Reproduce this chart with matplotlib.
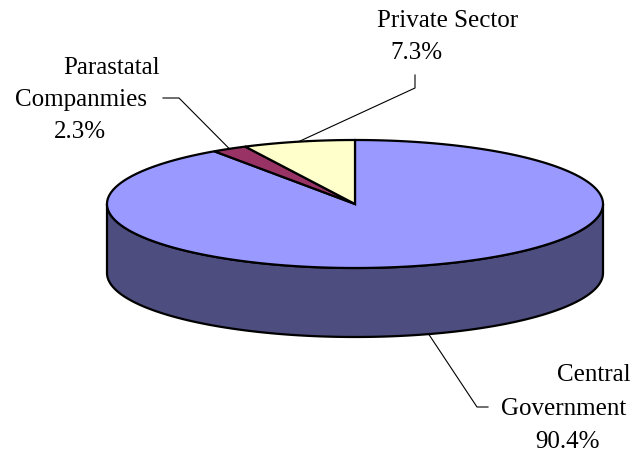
import numpy as np
import matplotlib
matplotlib.use("Agg")
import matplotlib.pyplot as plt
from matplotlib.patches import Polygon

# data
labels = ["Central\nGovernment", "Parastatal\nCompanmies", "Private Sector"]
shares = [90.4, 2.3, 7.3]
top_colors = ["#9999FF", "#993366", "#FFFFCC"]
side_color = "#4D4D80"

# pie geometry in pixels
cx, cy = 355, 204
rx, ry = 248, 64
depth = 69


def pt(theta, dy=0):
    # theta in degrees from 12 o'clock, clockwise
    t = np.radians(theta)
    return cx + rx * np.sin(t), cy - ry * np.cos(t) + dy


fig = plt.figure(figsize=(6.33, 4.53), dpi=100)
ax = fig.add_axes([0, 0, 1, 1])
ax.set_xlim(0, 633)
ax.set_ylim(453, 0)
ax.axis("off")

# side wall (front half)
th = np.linspace(90, 270, 200)
top_edge = [pt(t) for t in th]
bot_edge = [pt(t, depth) for t in th[::-1]]
ax.add_patch(Polygon(top_edge + bot_edge, closed=True, facecolor=side_color,
                     edgecolor="black", lw=1.6, joinstyle="round"))

# top slices
fracs = np.array(shares) / sum(shares)
starts = np.concatenate([[0], np.cumsum(fracs)[:-1]]) * 360
ends = np.cumsum(fracs) * 360
mids = []
for s, e, c in zip(starts, ends, top_colors):
    arc = [pt(t) for t in np.linspace(s, e, max(int(e - s), 2) * 2)]
    ax.add_patch(Polygon([(cx, cy)] + arc, closed=True, facecolor=c,
                         edgecolor="black", lw=1.6, joinstyle="miter"))
    mids.append((s + e) / 2)

# leader lines
txt = dict(family="Liberation Serif", fontsize=18, va="baseline", ha="center")
lw = 0.8
# Central Government: from the side wall
x0, y0 = pt(mids[0], depth)
ax.plot([x0, 477, 488], [y0, 407, 407], color="black", lw=lw)
# Parastatal
x1, y1 = pt(mids[1])
ax.plot([163, 179, x1], [98, 98, y1], color="black", lw=lw)
# Private Sector
x2, y2 = pt(mids[2])
ax.plot([415, 415, x2], [75, 88, y2], color="black", lw=lw)

# labels
ax.text(594, 381, "Central", **txt)
ax.text(563.5, 415, "Government", **txt)
ax.text(567.5, 448, f"{shares[0]:.1f}%", **txt)

ax.text(111.5, 74, "Parastatal", **txt)
ax.text(80.5, 106, "Companmies", **txt)
ax.text(80, 138, f"{shares[1]:.1f}%", **txt)

ax.text(448, 27, "Private Sector", **txt)
ax.text(416.5, 59, f"{shares[2]:.1f}%", **txt)

fig.savefig("out.png", dpi=100, facecolor="white")
